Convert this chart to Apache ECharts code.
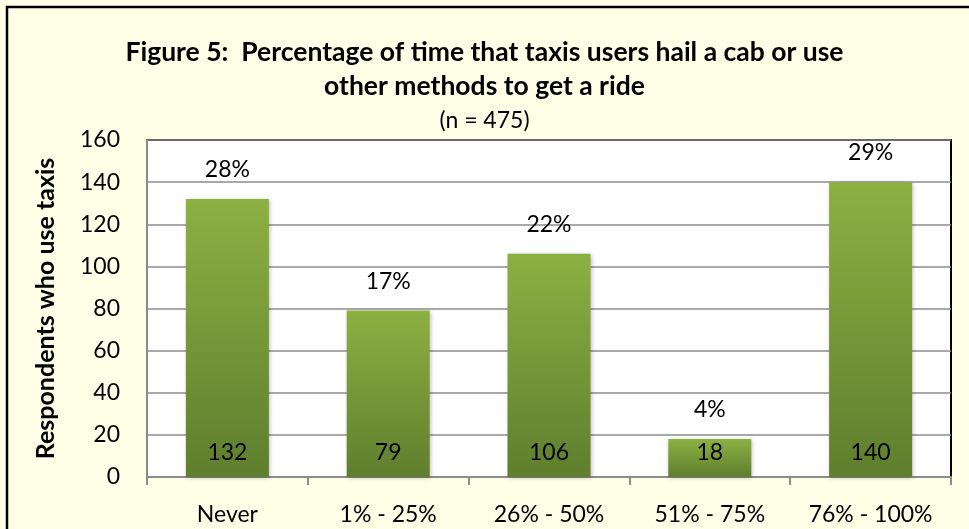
<!DOCTYPE html>
<html>
<head>
<meta charset="utf-8">
<script src="https://cdn.jsdelivr.net/npm/echarts@6/dist/echarts.min.js"></script>
<style>
  html, body { margin: 0; padding: 0; background: #FFFFE8; }
  #chart { width: 969px; height: 529px; }
</style>
</head>
<body>
<div id="chart"></div>
<script>
const categories = ['Never', '1% - 25%', '26% - 50%', '51% - 75%', '76% - 100%']
const counts = [132, 79, 106, 18, 140]
const percents = ['28%', '17%', '22%', '4%', '29%']

const font = 'Lato, "Open Sans", sans-serif'

const myChart = echarts.init(document.getElementById('chart'))
myChart.setOption({
  backgroundColor: '#FFFFE8',
  textStyle: { fontFamily: font },
  graphic: [
    {
      type: 'rect',
      shape: { x: 7, y: 7, width: 1100, height: 700 },
      style: { fill: 'none', stroke: '#000', lineWidth: 2.5 },
      silent: true
    }
  ],
  title: {
    text: 'Figure 5:  Percentage of time that taxis users hail a cab or use\nother methods to get a ride',
    subtext: '(n = 475)',
    left: 'center',
    top: 30,
    itemGap: 6,
    textStyle: {
      fontFamily: font,
      fontSize: 26.5,
      fontWeight: 'bold',
      color: '#000',
      lineHeight: 34
    },
    subtextStyle: {
      fontFamily: font,
      fontSize: 23,
      color: '#000',
      lineHeight: 24
    }
  },
  grid: {
    left: 147,
    top: 140,
    right: 18,
    bottom: 52,
    show: true,
    backgroundColor: '#fff',
    borderColor: '#000',
    borderWidth: 2
  },
  xAxis: {
    type: 'category',
    data: categories,
    axisLine: { lineStyle: { color: '#8C8C8C', width: 2 } },
    axisTick: { show: true, length: 8, lineStyle: { color: '#8C8C8C', width: 2 } },
    axisLabel: { color: '#000', fontSize: 23, margin: 26, interval: 0, fontFamily: font }
  },
  yAxis: {
    type: 'value',
    min: 0,
    max: 160,
    interval: 20,
    name: 'Respondents who use taxis',
    nameLocation: 'middle',
    nameGap: 89,
    nameTextStyle: { fontSize: 25, fontWeight: 'bold', color: '#000', fontFamily: font },
    axisLine: { show: true, lineStyle: { color: '#8C8C8C', width: 2 } },
    axisTick: { show: false },
    axisLabel: { color: '#000', fontSize: 23, margin: 27, fontFamily: font },
    splitLine: { lineStyle: { color: '#8C8C8C', width: 1.5 } }
  },
  series: [
    {
      name: 'Respondents',
      type: 'bar',
      data: counts,
      barWidth: 83,
      itemStyle: {
        color: new echarts.graphic.LinearGradient(0, 0, 0, 1, [
          { offset: 0, color: '#8DB042' },
          { offset: 1, color: '#5F7E2E' }
        ]),
        shadowColor: 'rgba(0,0,0,0.25)',
        shadowBlur: 4,
        shadowOffsetX: 1,
        shadowOffsetY: 1
      },
      label: {
        show: true,
        position: 'top',
        distance: 18,
        color: '#000',
        fontSize: 23,
        fontFamily: font,
        formatter: (p) => percents[p.dataIndex]
      }
    },
    {
      name: 'Counts',
      type: 'bar',
      data: counts,
      barWidth: 83,
      barGap: '-100%',
      silent: true,
      itemStyle: { color: 'rgba(0,0,0,0)' },
      label: {
        show: true,
        position: 'insideBottom',
        distance: 13,
        color: '#000',
        fontSize: 23,
        fontFamily: font
      }
    }
  ]
})
</script>
</body>
</html>
